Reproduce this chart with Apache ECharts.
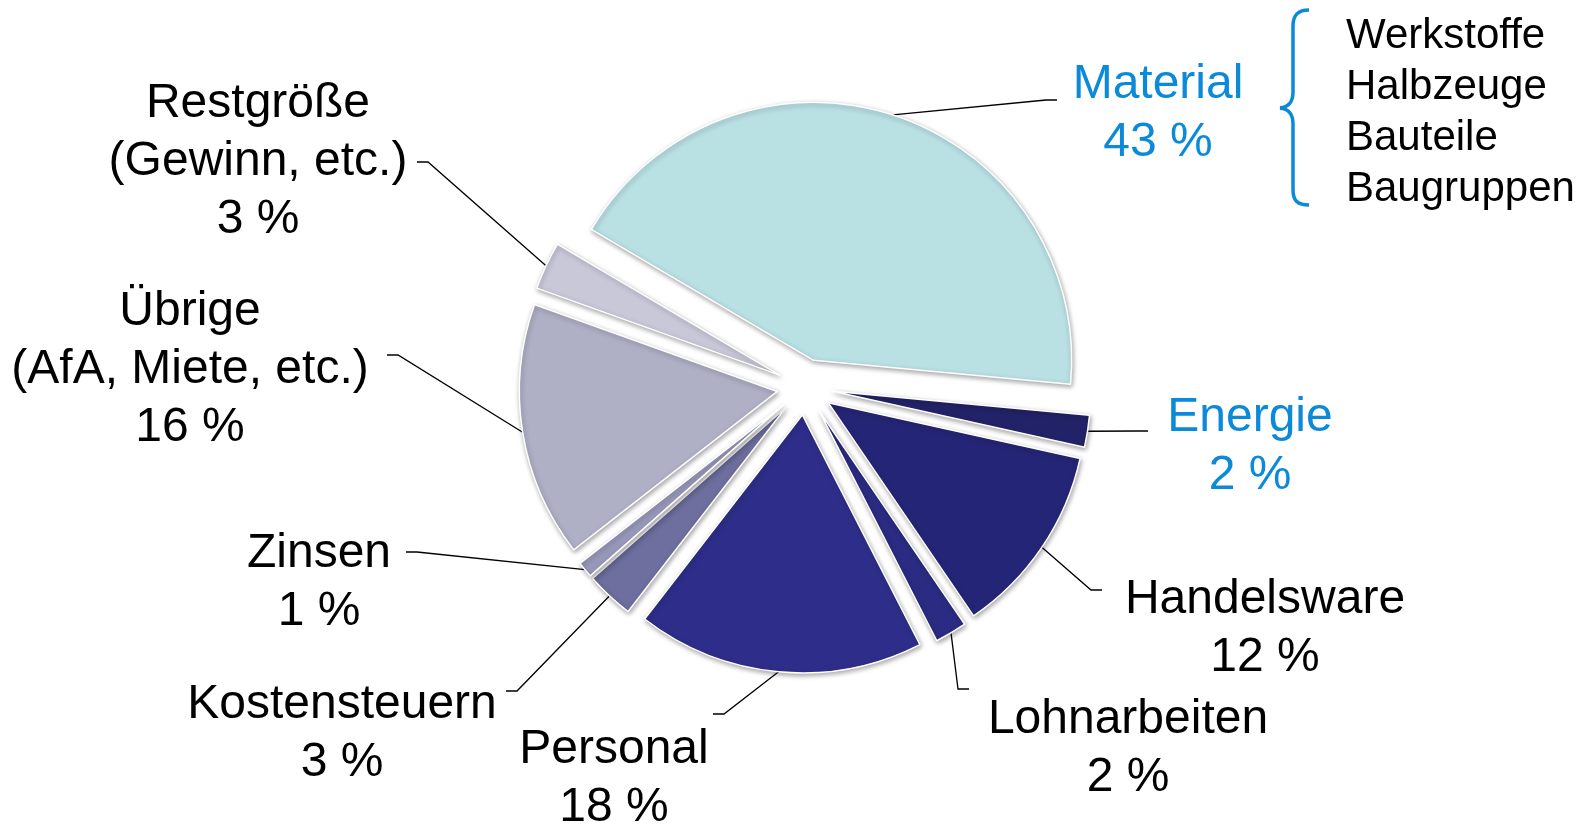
<!DOCTYPE html>
<html>
<head>
<meta charset="utf-8">
<script src="https://cdn.jsdelivr.net/npm/echarts@6/dist/echarts.min.js"></script>
<style>
  html, body { margin: 0; padding: 0; background: #fff; }
  #main { width: 1587px; height: 824px; }
</style>
</head>
<body>
<div id="main"></div>
<script>
// Kostenstruktur (Anteile in %)
var categories = ['Material', 'Energie', 'Handelsware', 'Lohnarbeiten', 'Personal',
  'Kostensteuern', 'Zinsen', 'Übrige\n(AfA, Miete, etc.)', 'Restgröße\n(Gewinn, etc.)'];
var shares = [43, 2, 12, 2, 18, 3, 1, 16, 3];
var materialParts = ['Werkstoffe', 'Halbzeuge', 'Bauteile', 'Baugruppen'];

var sliceColors = ['#b9e0e3', '#222268', '#252577', '#2b2b83', '#2e2e8a',
  '#6e6e9f', '#9898bb', '#afafc6', '#c8c8d9'];
var blue = '#0a8ad8';
var highlight = [true, true, false, false, false, false, false, false, false];
// Lage der Beschriftungen (Mitte) und Ende der Führungslinien, wie im Original von Hand gesetzt
var labelPos = [[1158, 114], [1250, 447], [1265, 629], [1128, 749], [614, 779],
  [342, 734], [319, 583], [190, 370], [258, 162]];
var leaderEnd = [[1057, 100], [1148, 431], [1102, 590], [969, 689], [713, 714],
  [506, 691], [406, 552], [387, 355], [417, 162]];

var pieCenter = [805, 387];
var pieRadius = 258;
var startAngle = 149.5;
var explode = 28; // jedes Segment ist herausgezogen

var myChart = echarts.init(document.getElementById('main'));

var total = 0;
shares.forEach(function (v) { total += v; });

// eine Pie-Serie je Segment, damit jedes Segment herausgezogen werden kann
var series = [];
var acc = 0;
shares.forEach(function (v, i) {
  var mid = (startAngle - (acc + v / 2) / total * 360) * Math.PI / 180;
  acc += v;
  var data = [];
  for (var j = 0; j < categories.length; j++) {
    var own = j === i;
    data.push({
      name: categories[j],
      value: shares[j],
      itemStyle: own ? {
        color: sliceColors[j],
        borderColor: '#fff',
        borderWidth: 1.5,
        shadowBlur: 5,
        shadowColor: 'rgba(0,0,0,0.35)',
        shadowOffsetX: 1,
        shadowOffsetY: 2
      } : { color: 'rgba(0,0,0,0)', borderWidth: 0, shadowBlur: 0 },
      label: { show: own, color: highlight[j] ? blue : '#000' },
      labelLine: { show: own }
    });
  }
  series.push({
    type: 'pie',
    silent: true,
    center: [pieCenter[0] + explode * Math.cos(mid), pieCenter[1] - explode * Math.sin(mid)],
    radius: pieRadius,
    startAngle: startAngle,
    clockwise: true,
    avoidLabelOverlap: false,
    label: {
      position: 'outside',
      formatter: '{b}\n{c} %',
      fontFamily: 'Liberation Sans, Arial, sans-serif',
      fontSize: 48,
      lineHeight: 58
    },
    labelLine: {
      length: 20,
      length2: 12,
      lineStyle: { color: '#000', width: 1.3 }
    },
    labelLayout: function (params) {
      var k = params.dataIndex;
      var p = labelPos[k];
      var e = leaderEnd[k];
      var res = { x: p[0], y: p[1], align: 'center', verticalAlign: 'middle' };
      if (params.labelLinePoints) {
        // Linie vom Segmentrand (Mittelwinkel) zum Ende, kurzes waagrechtes Stück am Schluss
        var start = params.labelLinePoints[0];
        var toward = e[0] < start[0] ? 11 : -11;
        res.labelLinePoints = [start, [e[0] + toward, e[1]], e];
      }
      return res;
    },
    data: data
  });
});

// geschweifte Klammer bei "Material"
var braceStyle = { fill: null, stroke: blue, lineWidth: 3.5 };
var brace = [
  { type: 'bezierCurve', shape: { x1: 1309, y1: 10, cpx1: 1298, cpy1: 10, cpx2: 1293, cpy2: 15, x2: 1293, y2: 26 } },
  { type: 'line', shape: { x1: 1293, y1: 26, x2: 1293, y2: 92 } },
  { type: 'bezierCurve', shape: { x1: 1293, y1: 92, cpx1: 1293, cpy1: 103, cpx2: 1288, cpy2: 107, x2: 1280, y2: 108 } },
  { type: 'bezierCurve', shape: { x1: 1280, y1: 108, cpx1: 1288, cpy1: 109, cpx2: 1293, cpy2: 113, x2: 1293, y2: 124 } },
  { type: 'line', shape: { x1: 1293, y1: 124, x2: 1293, y2: 190 } },
  { type: 'bezierCurve', shape: { x1: 1293, y1: 190, cpx1: 1293, cpy1: 201, cpx2: 1298, cpy2: 205, x2: 1309, y2: 205 } }
];
brace.forEach(function (b) { b.style = braceStyle; });

var option = {
  animation: false,
  series: series,
  graphic: brace.concat([
    {
      type: 'text',
      left: 1346,
      top: 11,
      style: {
        text: materialParts.join('\n'),
        fontFamily: 'Liberation Sans, Arial, sans-serif',
        fontSize: 42,
        lineHeight: 51,
        fill: '#000'
      }
    }
  ])
};

myChart.setOption(option);
</script>
</body>
</html>
